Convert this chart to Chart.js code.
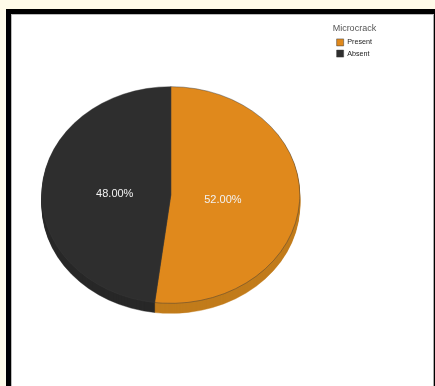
<!DOCTYPE html>
<html>
<head>
<meta charset="utf-8">
<title>Microcrack</title>
<script src="https://cdn.jsdelivr.net/npm/chart.js@4/dist/chart.umd.js"></script>
<style>
  html, body { margin: 0; padding: 0; background: #fffbe9; overflow: hidden; }
  #frame {
    position: absolute; left: 6px; top: 9px; width: 429px; height: 377px;
    box-sizing: border-box; background: #fff;
    border: solid #000; border-width: 5px 1px 0 5px;
    box-shadow: inset 1px 1px 0 #bbb, inset -1px 0 0 #aaa;
  }
  #chart { position: absolute; left: 0; top: 0; }
</style>
</head>
<body>
<div id="frame"></div>
<canvas id="chart" width="435" height="386"></canvas>
<script>
const legendTitle = 'Microcrack';
const categories = ['Present', 'Absent'];
const shares = [52, 48];
const topColors = ['#e0891c', '#2e2e2e'];
const sideColors = ['#c27c1b', '#282828'];

const FLATTEN = 0.84;   // вертикальное сжатие круга в эллипс
const DEPTH = 10;       // высота боковой стенки

// Псевдо-3D: сжимаем круг и рисуем под ним затемнённые слои
const tiltPlugin = {
  id: 'tilt',
  beforeDatasetDraw(chart) {
    const { ctx } = chart;
    const arcs = chart.getDatasetMeta(0).data;
    const cy = arcs[0].y;
    ctx.save();
    ctx.translate(0, cy);
    ctx.scale(1, FLATTEN);
    ctx.translate(0, -cy);
    for (let d = DEPTH; d > 0; d -= 1) {
      ctx.save();
      ctx.translate(0, d / FLATTEN);
      arcs.forEach((arc, i) => {
        const top = arc.options;
        arc.options = { ...top, backgroundColor: sideColors[i], borderColor: sideColors[i] };
        arc.draw(ctx);
        arc.options = top;
      });
      ctx.restore();
    }
  },
  afterDatasetDraw(chart) {
    chart.ctx.restore();
  },
  afterDatasetsDraw(chart) {
    const { ctx } = chart;
    const arcs = chart.getDatasetMeta(0).data;
    ctx.save();
    ctx.font = '11px "Liberation Sans", Arial, sans-serif';
    ctx.fillStyle = '#f2f2f2';
    ctx.textAlign = 'center';
    ctx.textBaseline = 'middle';
    arcs.forEach((arc, i) => {
      const mid = (arc.startAngle + arc.endAngle) / 2;
      const r = arc.outerRadius * 0.42;
      const x = arc.x - 2 + Math.cos(mid) * r;
      const y = arc.y + 2 + Math.sin(mid) * r * FLATTEN;
      ctx.fillText(`${shares[i].toFixed(2)}%`, x, y);
    });
    ctx.restore();
  },
};

new Chart(document.getElementById('chart'), {
  type: 'pie',
  data: {
    labels: categories,
    datasets: [{
      data: shares,
      backgroundColor: topColors,
      borderColor: '#3a3a3a',
      borderWidth: 0.5,
      radius: 129,
      clip: false,
    }],
  },
  options: {
    responsive: false,
    animation: false,
    layout: { padding: { left: 9, right: 53, top: 4, bottom: 0 } },
    plugins: {
      tooltip: { enabled: false },
      legend: {
        position: 'right',
        align: 'start',
        onClick: null,
        title: {
          display: true,
          text: legendTitle,
          position: 'start',
          color: '#555',
          font: { family: '"Liberation Sans", Arial, sans-serif', size: 9 },
          padding: { top: 20, bottom: 0 },
        },
        labels: {
          boxWidth: 7,
          boxHeight: 7,
          padding: 4,
          color: '#222',
          font: { family: '"Liberation Sans", Arial, sans-serif', size: 7.2 },
        },
      },
    },
  },
  plugins: [tiltPlugin],
});
</script>
</body>
</html>
